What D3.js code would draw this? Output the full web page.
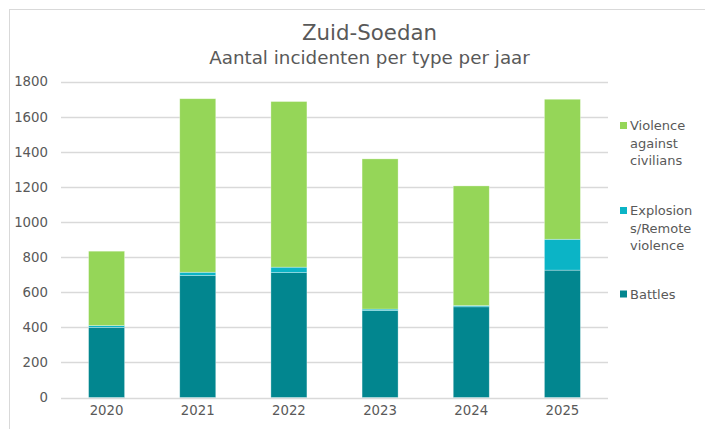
<!DOCTYPE html>
<html><head><meta charset="utf-8">
<script src="https://cdn.jsdelivr.net/npm/d3@7"></script>
<style>
html,body{margin:0;padding:0;background:#fff;}
svg{display:block;font-family:"DejaVu Sans",Verdana,sans-serif;}
</style></head>
<body><svg id="c" width="705" height="429"></svg>
<script>
const years = ["2020","2021","2022","2023","2024","2025"];
const battles = [400, 695, 712, 496, 517, 726];
const explosions = [10, 19, 31, 8, 7, 176];
const violence = [424, 989, 944, 856, 682, 798];
const seriesNames = ["Battles","Explosions/Remote violence","Violence against civilians"];
const legendLines = [["Violence","against","civilians"],["Explosion","s/Remote","violence"],["Battles"]];
const colors = ["#02868f","#0bb4c6","#95d658"];
const yTicks = [0,200,400,600,800,1000,1200,1400,1600,1800];

const svg = d3.select("#c");
const textColor = "#595959";

// chart border
svg.append("rect").attr("x",9.5).attr("y",9.5).attr("width",720).attr("height",440)
  .attr("fill","none").attr("stroke","#d9d9d9").attr("stroke-width",1);

const x = d3.scaleBand().domain(years).range([61,608]).paddingInner(0.605).paddingOuter(0.3025);
const y = d3.scaleLinear().domain([0,1800]).range([397.5,81.7]);

// gridlines
svg.append("g").selectAll("line").data(yTicks).join("line")
  .attr("x1",61).attr("x2",608)
  .attr("y1",d=>Math.round(y(d))+0.5).attr("y2",d=>Math.round(y(d))+0.5)
  .attr("stroke","#d9d9d9").attr("stroke-width",1.3);

// y axis labels
const yAxis = d3.axisLeft(y).tickValues(yTicks).tickSize(0).tickPadding(0).tickFormat(d3.format("d"));
const ga = svg.append("g").attr("transform","translate(48,0)").call(yAxis);
ga.select(".domain").remove();
ga.selectAll("text").attr("fill",textColor).attr("font-size","13.3px")
  .attr("font-family","'DejaVu Sans',Verdana,sans-serif");

// x axis labels
const xAxis = d3.axisBottom(x).tickSize(0).tickPadding(0);
const gx = svg.append("g").attr("transform","translate(0,406)").call(xAxis);
gx.select(".domain").remove();
gx.selectAll("text").attr("fill",textColor).attr("font-size","13.3px")
  .attr("font-family","'DejaVu Sans',Verdana,sans-serif");

// stacked data
const rows = years.map((yr,i)=>({year:yr, b:battles[i], e:explosions[i], v:violence[i]}));
const stack = d3.stack().keys(["b","e","v"])(rows);
svg.append("g").selectAll("g").data(stack).join("g")
  .attr("fill",(d,i)=>colors[i])
  .selectAll("rect").data(d=>d).join("rect")
  .attr("x",d=>x(d.data.year))
  .attr("width",x.bandwidth())
  .attr("y",d=>y(d[1]))
  .attr("height",d=>y(d[0])-y(d[1]))
  .attr("stroke","#ffffff").attr("stroke-opacity",0.45).attr("stroke-width",0.7);

// titles
svg.append("text").attr("x",369.5).attr("y",39.5).attr("text-anchor","middle")
  .attr("font-size","21.3px").attr("fill",textColor).text("Zuid-Soedan");
svg.append("text").attr("x",369.5).attr("y",63.5).attr("text-anchor","middle")
  .attr("font-size","18.3px").attr("fill",textColor).text("Aantal incidenten per type per jaar");

// legend
const legendTop = [125.5, 210.5, 294];
const legendColorIdx = [2,1,0];
legendLines.forEach((lines,k)=>{
  const cy = legendTop[k];
  svg.append("rect").attr("x",620).attr("y",cy-3.5).attr("width",7).attr("height",7)
    .attr("fill",colors[legendColorIdx[k]]);
  const t = svg.append("text").attr("x",630).attr("y",cy+4.5)
    .attr("font-size","13px").attr("fill",textColor);
  lines.forEach((ln,j)=>{
    t.append("tspan").attr("x",630).attr("dy", j===0?0:17.5).text(ln);
  });
});
</script>
</body></html>
